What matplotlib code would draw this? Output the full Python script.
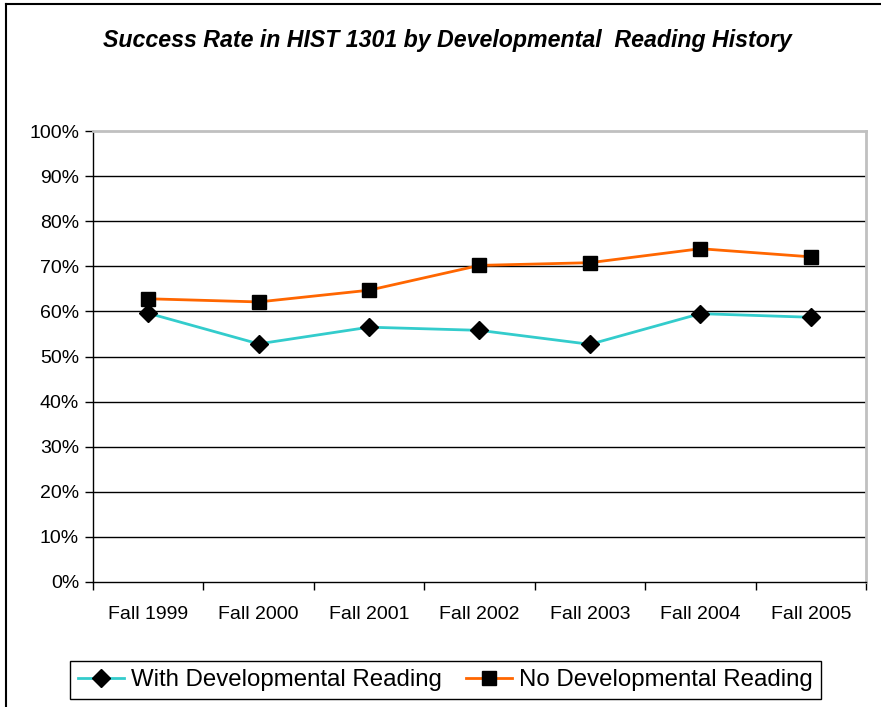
import matplotlib.pyplot as plt
import numpy as np
from matplotlib.lines import Line2D

plt.rcParams['font.family'] = ['Liberation Sans', 'DejaVu Sans']

terms = ['Fall 1999', 'Fall 2000', 'Fall 2001', 'Fall 2002', 'Fall 2003', 'Fall 2004', 'Fall 2005']
with_dev = [59.6, 52.8, 56.5, 55.8, 52.7, 59.5, 58.7]     # [%]
no_dev = [62.8, 62.1, 64.7, 70.2, 70.8, 73.9, 72.1]       # [%]

fig = plt.figure(figsize=(8.81, 7.07), dpi=100)
ax = fig.add_axes([93 / 881, 1 - 582 / 707, 773 / 881, 451 / 707])

x = np.arange(len(terms))
ax.plot(x, with_dev, color='#33CCCC', lw=2.0, marker='D', ms=9,
        mfc='black', mec='black', label='With Developmental Reading', zorder=3)
ax.plot(x, no_dev, color='#FF6600', lw=2.0, marker='s', ms=10.5,
        mfc='black', mec='black', label='No Developmental Reading', zorder=3)

ax.set_xlim(-0.5, len(terms) - 0.5)
ax.set_ylim(0, 100)
ax.set_yticks(np.arange(0, 101, 10))
ax.set_yticklabels(['{:d}%'.format(v) for v in range(0, 101, 10)])
ax.set_xticks(x)
ax.set_xticklabels(terms)
ax.set_xticks(np.arange(-0.5, len(terms), 1.0), minor=True)
ax.tick_params(axis='x', which='major', length=0, pad=17.5, labelsize=14)
ax.tick_params(axis='x', which='minor', length=6, width=1, color='black', direction='out')
ax.tick_params(axis='y', length=6, width=1, color='black', labelsize=14, pad=4)

for v in range(10, 100, 10):
    ax.axhline(v, color='black', lw=1.0, zorder=1)

for side in ['top', 'right']:
    ax.spines[side].set_color('#C0C0C0')
    ax.spines[side].set_linewidth(2)
for side in ['left', 'bottom']:
    ax.spines[side].set_color('black')
    ax.spines[side].set_linewidth(1)

fig.text(0.508, 1 - 40 / 707, 'Success Rate in HIST 1301 by Developmental  Reading History',
         ha='center', va='center', fontsize=16.7, fontweight='bold', fontstyle='italic')

leg = fig.legend(loc='center', bbox_to_anchor=(445.5 / 881, 1 - 680 / 707), ncol=2,
                 fontsize=17.3, frameon=True, fancybox=False, framealpha=1,
                 edgecolor='black', handlelength=1.9, handletextpad=0.3,
                 columnspacing=1.0, borderpad=0.35)
leg.get_frame().set_linewidth(1)

# outer chart border (left and top visible)
fig.add_artist(Line2D([6 / 881, 6 / 881], [0, 1 - 4 / 707], transform=fig.transFigure, color='black', lw=1.5))
fig.add_artist(Line2D([6 / 881, 1], [1 - 4 / 707, 1 - 4 / 707], transform=fig.transFigure, color='black', lw=1.5))

fig.savefig('out.png', dpi=100)
